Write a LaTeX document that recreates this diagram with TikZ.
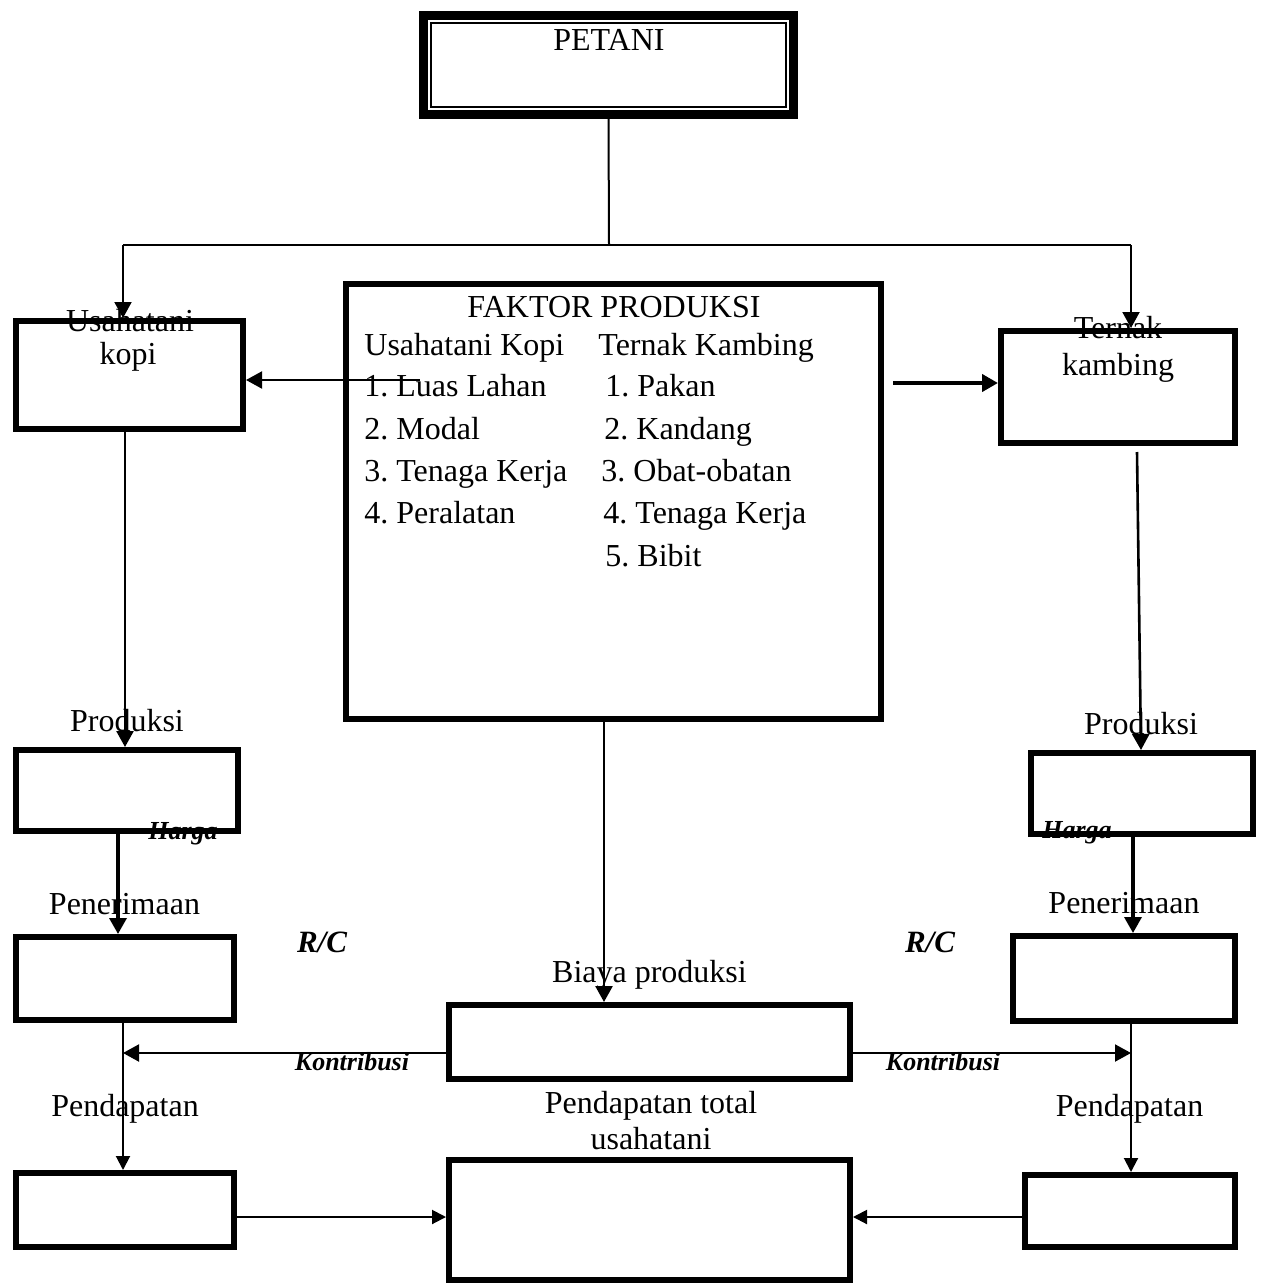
\documentclass[tikz,border=0pt]{standalone}
\usepackage{fontspec}
\setmainfont{Liberation Serif}
\usetikzlibrary{arrows.meta}
\frenchspacing
\begin{document}
\begin{tikzpicture}[x=0.5pt,y=-0.5pt,
  box/.style={draw, line width=3pt, inner sep=0pt},
  lbl/.style={anchor=base, inner sep=0pt, font=\fontsize{16}{19}\selectfont},
  lblw/.style={lbl, anchor=base west},
  bi/.style={anchor=base, inner sep=0pt, font=\fontsize{13}{15}\selectfont\bfseries\itshape},
  rc/.style={anchor=base, inner sep=0pt, font=\fontsize{15.5}{18}\selectfont\bfseries\itshape},
  conn/.style={line width=1pt},
  thinl/.style={line width=0.75pt},
  arr/.style={-{Triangle[length=8pt,width=8.5pt]}, line width=1.3pt},
  arrs/.style={-{Triangle[length=7pt,width=7pt]}, line width=1pt}
]
\useasboundingbox (0,0) rectangle (1260,1285);

% ---------- boxes ----------
\node[box, line width=4.5pt, minimum width=185pt, minimum height=49.5pt] (petani) at (608.5,65) {};
\draw[line width=1pt] ([xshift=6pt,yshift=-6pt]petani.north west) rectangle ([xshift=-6pt,yshift=6pt]petani.south east);

\node[box, minimum width=113.5pt, minimum height=54pt] (usaha) at (129.5,375) {};
\node[box, minimum width=267.5pt, minimum height=217.5pt] (faktor) at (613.5,501.5) {};
\node[box, minimum width=117pt, minimum height=56pt] (ternak) at (1118,387) {};
\node[box, minimum width=111pt, minimum height=40.5pt] (prodL) at (127,790.5) {};
\node[box, minimum width=111pt, minimum height=40.5pt] (prodR) at (1142,793.5) {};
\node[box, minimum width=109pt, minimum height=41.5pt] (terimaL) at (125,978.5) {};
\node[box, minimum width=111pt, minimum height=42.5pt] (terimaR) at (1124,978.5) {};
\node[box, minimum width=200.5pt, minimum height=37pt] (biaya) at (649.5,1042) {};
\node[box, minimum width=109pt, minimum height=37pt] (pdptL) at (125,1210) {};
\node[box, minimum width=200.5pt, minimum height=60pt] (total) at (649.5,1220) {};
\node[box, minimum width=105pt, minimum height=36pt] (pdptR) at (1130,1211) {};

% ---------- texts ----------
\node[lbl] (tpetani) at (609,50) {PETANI};
\node[lbl] (tfaktor) at (614,317) {FAKTOR PRODUKSI};
\node[lblw] (k0) at (364,355) {Usahatani Kopi};
\node[lblw] (k1) at (364,396) {1. Luas Lahan};
\node[lblw] (k2) at (364,439) {2. Modal};
\node[lblw] (k3) at (364,481) {3. Tenaga Kerja};
\node[lblw] (k4) at (364,523) {4. Peralatan};
\node[lblw] (t0) at (598,355) {Ternak Kambing};
\node[lblw] (t1) at (605,396) {1. Pakan};
\node[lblw] (t2) at (604,439) {2. Kandang};
\node[lblw] (t3) at (601,481) {3. Obat-obatan};
\node[lblw] (t4) at (603,523) {4. Tenaga Kerja};
\node[lblw] (t5) at (605,566) {5. Bibit};

\node[lbl] (tusaha1) at (130,331) {Usahatani};
\node[lbl] (tusaha2) at (128,364) {kopi};
\node[lbl] (tternak1) at (1118,338) {Ternak};
\node[lbl] (tternak2) at (1118,375) {kambing};

\node[lbl] (tprodL) at (127,731) {Produksi};
\node[lbl] (tprodR) at (1141,734) {Produksi};
\node[bi] (hargaL) at (183,839) {Harga};
\node[bi] (hargaR) at (1077,838) {Harga};
\node[lbl] (tterimaL) at (124.5,914) {Penerimaan};
\node[lbl] (tterimaR) at (1124,913) {Penerimaan};
\node[rc] (rcL) at (322,952) {R/C};
\node[rc] (rcR) at (930,952) {R/C};
\node[lbl] (tbiaya) at (649.5,982) {Biaya produksi};
\node[bi] (kontL) at (352,1070) {Kontribusi};
\node[bi] (kontR) at (943,1070) {Kontribusi};
\node[lbl] (tpdptL) at (125,1116) {Pendapatan};
\node[lbl] (tpdptR) at (1129.5,1116) {Pendapatan};
\node[lbl] (ttotal1) at (651,1113) {Pendapatan total};
\node[lbl] (ttotal2) at (651,1149) {usahatani};

% ---------- coordinates ----------
\coordinate (jn) at (609,245);
\coordinate (jl) at (123,245);
\coordinate (jr) at (1131,245);
\coordinate (fl) at (420,380);
\coordinate (fr) at (893,383);
\coordinate (xa) at (125,0);
\coordinate (tb) at (1137,452);
\coordinate (xc) at (1141,0);
\coordinate (xd) at (118,0);
\coordinate (xe) at (1133,0);
\coordinate (xf) at (604,0);
\coordinate (xg) at (123,0);
\coordinate (xh) at (1131,0);
\coordinate (kl) at (123,1053);
\coordinate (kr) at (1131,1053);
\coordinate (by) at (0,1217);

% ---------- connectors ----------
\draw[conn] (petani.south) -- (jn);
\draw[thinl] (jl) -- (jr);
\draw[arr, line width=1pt] (jl) -- (usaha.north -| jl);
\draw[arr, line width=1pt] (jr) -- (ternak.north -| jr);
\draw[arr, line width=1pt] (fl) -- (usaha.east |- fl);
\draw[arr, line width=2pt] (fr) -- (ternak.west |- fr);
\draw[arr] (usaha.south -| xa) -- (prodL.north -| xa);
\draw[arr] (tb) -- (prodR.north -| xc);
\draw[arr, line width=1.7pt] (prodL.south -| xd) -- (terimaL.north -| xd);
\draw[arr, line width=1.7pt] (prodR.south -| xe) -- (terimaR.north -| xe);
\draw[arr] (faktor.south -| xf) -- (biaya.north -| xf);
\draw[arrs] (terimaL.south -| xg) -- (pdptL.north -| xg);
\draw[arrs] (terimaR.south -| xh) -- (pdptR.north -| xh);
\draw[arr, line width=1pt] (biaya.west |- kl) -- (kl);
\draw[arr, line width=1pt] (biaya.east |- kr) -- (kr);
\draw[arrs] (pdptL.east |- by) -- (total.west |- by);
\draw[arrs] (pdptR.west |- by) -- (total.east |- by);
\end{tikzpicture}
\end{document}
